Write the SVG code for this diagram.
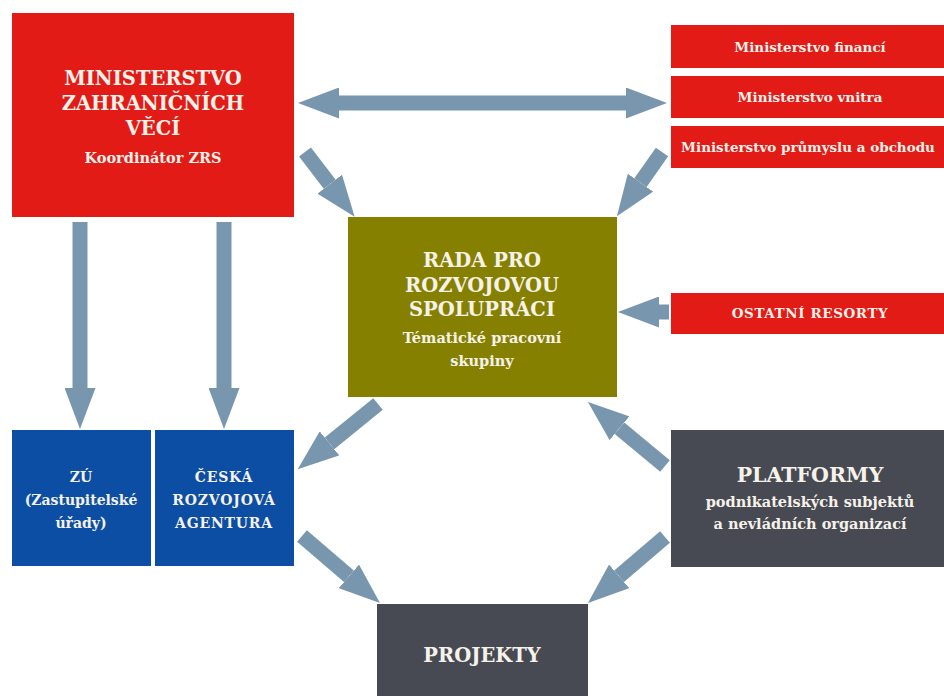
<svg xmlns="http://www.w3.org/2000/svg" width="944" height="696" viewBox="0 0 944 696">
<style>
.red{fill:#e31b17}
.olive{fill:#858000}
.blue{fill:#0b4ea3}
.dark{fill:#474a52}
text{font-family:"DejaVu Serif","Liberation Serif",serif;fill:#f6f2ea;text-anchor:middle;font-weight:bold}
.t1{font-size:19.5px}
.t2{font-size:14.5px}
.t3{font-size:13.5px}
.t4{font-size:14px}
.arr{stroke:#7896ad;stroke-width:15;fill:none;marker-end:url(#head)}
</style>
<defs>
<marker id="head" markerUnits="userSpaceOnUse" viewBox="0 0 41 31" markerWidth="41" markerHeight="31" refX="0" refY="15.5" orient="auto-start-reverse">
<path d="M0,0 L41,15.5 L0,31 z" fill="#7896ad"/>
</marker>
</defs>
<rect width="944" height="696" fill="#ffffff"/>
<g id="connectors">
<line class="arr" x1="339" y1="103" x2="626" y2="103" style="marker-start:url(#head)"/>
<line class="arr" x1="80" y1="222" x2="80" y2="388"/>
<line class="arr" x1="224" y1="222" x2="224" y2="388"/>
<line class="arr" x1="305" y1="152" x2="329.7" y2="184.2"/>
<line class="arr" x1="662" y1="152" x2="640.5" y2="182.6"/>
<line class="arr" x1="669" y1="312" x2="659" y2="312"/>
<line class="arr" x1="378" y1="404" x2="329.5" y2="443.4"/>
<line class="arr" x1="302" y1="536" x2="348.9" y2="576.3"/>
<line class="arr" x1="665" y1="466" x2="619.5" y2="428.2"/>
<line class="arr" x1="665" y1="537" x2="619.1" y2="576.3"/>
</g>
<g id="mzv">
<rect class="red" x="12" y="13" width="282" height="204"/>
<text class="t1" x="153" y="85">MINISTERSTVO</text>
<text class="t1" x="153" y="110">ZAHRANIČNÍCH</text>
<text class="t1" x="153" y="135">VĚCÍ</text>
<text class="t2" x="153" y="163">Koordinátor ZRS</text>
</g>
<g id="mf">
<rect class="red" x="671" y="25" width="273" height="43"/>
<text class="t3" x="810" y="52">Ministerstvo financí</text>
</g>
<g id="mv">
<rect class="red" x="671" y="76" width="273" height="42"/>
<text class="t3" x="810" y="102">Ministerstvo vnitra</text>
</g>
<g id="mpo">
<rect class="red" x="671" y="126" width="273" height="42"/>
<text class="t3" x="808" y="152">Ministerstvo průmyslu a obchodu</text>
</g>
<g id="rada">
<rect class="olive" x="348" y="217" width="269" height="180"/>
<text class="t1" x="482" y="267">RADA PRO</text>
<text class="t1" x="482" y="292">ROZVOJOVOU</text>
<text class="t1" x="482" y="316">SPOLUPRÁCI</text>
<text class="t2" x="482" y="343">Tématické pracovní</text>
<text class="t2" x="482" y="366">skupiny</text>
</g>
<g id="ostatni">
<rect class="red" x="671" y="293" width="273" height="41"/>
<text class="t3" x="810" y="318" style="letter-spacing:0.6px">OSTATNÍ RESORTY</text>
</g>
<g id="zu">
<rect class="blue" x="12" y="430" width="139" height="136"/>
<text class="t4" x="81" y="482">ZÚ</text>
<text class="t4" x="81" y="505">(Zastupitelské</text>
<text class="t4" x="81" y="528">úřady)</text>
</g>
<g id="cra">
<rect class="blue" x="155" y="430" width="139" height="136"/>
<text class="t4" x="224" y="482" style="letter-spacing:0.8px">ČESKÁ</text>
<text class="t4" x="224" y="505" style="letter-spacing:0.8px">ROZVOJOVÁ</text>
<text class="t4" x="224" y="528" style="letter-spacing:0.8px">AGENTURA</text>
</g>
<g id="platformy">
<rect class="dark" x="671" y="430" width="273" height="137"/>
<text class="t1" x="810" y="482" style="font-size:20.5px">PLATFORMY</text>
<text class="t2" x="810" y="507">podnikatelských subjektů</text>
<text class="t2" x="810" y="529">a nevládních organizací</text>
</g>
<g id="projekty">
<rect class="dark" x="377" y="604" width="211" height="92"/>
<text class="t1" x="482" y="662">PROJEKTY</text>
</g>
</svg>
